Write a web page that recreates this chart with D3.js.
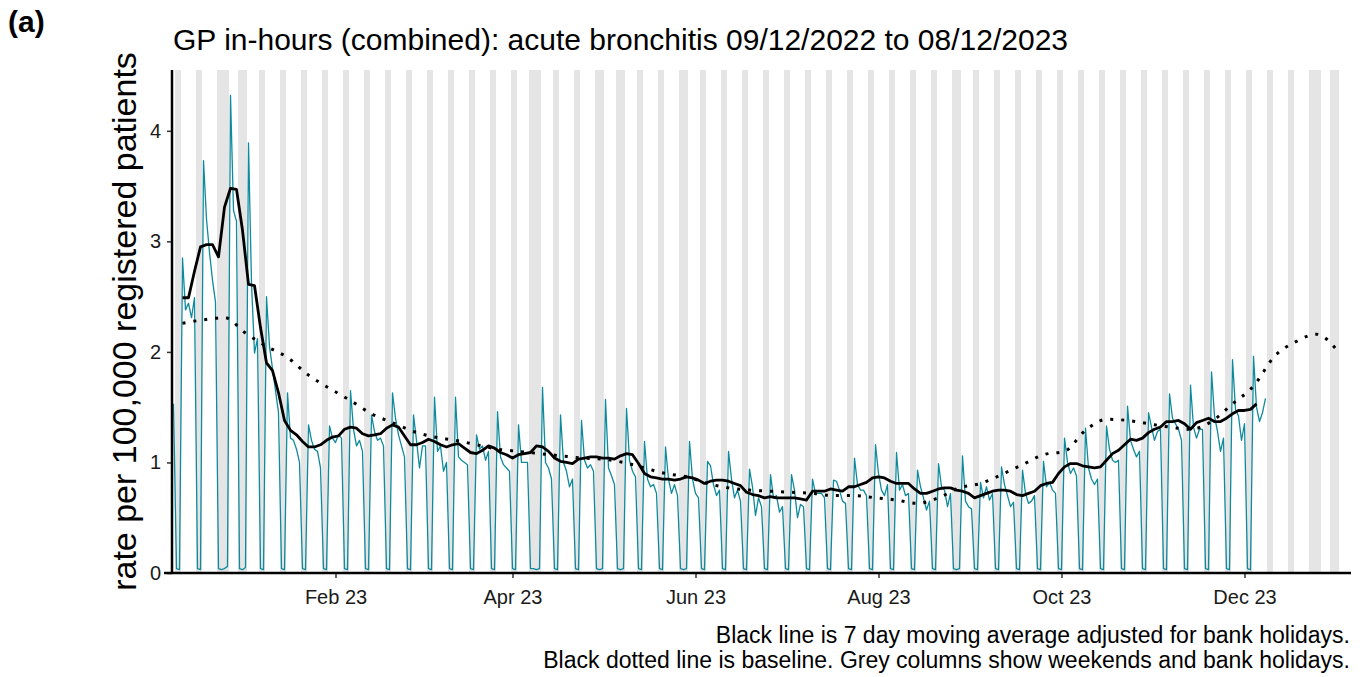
<!DOCTYPE html>
<html>
<head>
<meta charset="utf-8">
<script src="https://cdn.jsdelivr.net/npm/d3@7"></script>
<style>
  html, body { margin: 0; padding: 0; background: #fff; }
  svg { display: block; font-family: "Liberation Sans", Arial, sans-serif; }
</style>
</head>
<body>
<div class="chart"></div>
<script>
// daily rate per 100,000, starting Fri 9 Dec 2022 (one row per week, Mon..Sun)
const rateStart = "2022-12-09";
const dailyRate = [
  1.53, 0.04, 0.03,
  2.85, 2.38, 2.44, 2.31, 2.49, 0.04, 0.03, // 12 Dec
  3.73, 3.20, 2.90, 2.65, 2.45, 0.04, 0.03, // 19 Dec
  0.04, 0.06, 4.32, 3.28, 3.18, 0.04, 0.03, // 26 Dec
  0.05, 3.89, 2.62, 1.99, 2.12, 0.04, 0.03, // 2 Jan
  2.50, 2.05, 1.85, 1.65, 1.45, 0.04, 0.03, // 9 Jan
  1.63, 1.22, 1.20, 1.12, 1.00, 0.04, 0.03, // 16 Jan
  1.34, 1.20, 1.12, 1.10, 0.95, 0.04, 0.03, // 23 Jan
  1.33, 1.22, 1.18, 1.25, 1.22, 0.04, 0.03, // 30 Jan
  1.65, 1.30, 1.15, 1.20, 1.10, 0.04, 0.03, // 6 Feb
  1.43, 1.28, 1.20, 1.22, 1.15, 0.04, 0.03, // 13 Feb
  1.63, 1.40, 1.25, 1.15, 1.05, 0.04, 0.03, // 20 Feb
  1.43, 1.20, 0.95, 1.15, 1.15, 0.04, 0.03, // 27 Feb
  1.59, 1.10, 1.15, 0.92, 1.00, 0.04, 0.03, // 6 Mar
  1.59, 1.05, 1.02, 1.00, 0.98, 0.04, 0.03, // 13 Mar
  1.25, 1.12, 1.15, 1.02, 1.10, 0.04, 0.03, // 20 Mar
  1.46, 1.05, 0.98, 0.95, 0.92, 0.04, 0.03, // 27 Mar
  1.34, 1.00, 1.00, 1.00, 0.04, 0.04, 0.03, // 3 Apr
  0.04, 1.68, 1.00, 0.95, 0.85, 0.04, 0.03, // 10 Apr
  1.43, 1.00, 0.92, 0.78, 0.85, 0.04, 0.03, // 17 Apr
  1.38, 1.02, 0.95, 0.98, 0.92, 0.04, 0.03, // 24 Apr
  0.04, 1.57, 0.95, 0.88, 0.80, 0.04, 0.03, // 1 May
  0.04, 1.49, 1.02, 0.92, 0.87, 0.04, 0.03, // 8 May
  1.19, 0.85, 0.78, 0.80, 0.72, 0.04, 0.03, // 15 May
  1.14, 0.85, 0.72, 0.80, 0.70, 0.04, 0.03, // 22 May
  0.04, 1.19, 0.85, 0.72, 0.68, 0.04, 0.03, // 29 May
  1.01, 0.97, 0.80, 0.70, 0.75, 0.04, 0.03, // 5 Jun
  1.10, 0.85, 0.68, 0.75, 0.65, 0.04, 0.03, // 12 Jun
  0.94, 0.78, 0.52, 0.68, 0.60, 0.04, 0.03, // 19 Jun
  0.89, 0.68, 0.70, 0.55, 0.60, 0.04, 0.03, // 26 Jun
  0.89, 0.75, 0.50, 0.62, 0.60, 0.04, 0.03, // 3 Jul
  0.85, 0.72, 0.72, 0.72, 0.68, 0.04, 0.03, // 10 Jul
  0.84, 0.83, 0.75, 0.65, 0.63, 0.04, 0.03, // 17 Jul
  1.04, 0.80, 0.75, 0.75, 0.70, 0.04, 0.03, // 24 Jul
  1.16, 0.90, 0.75, 0.70, 0.80, 0.04, 0.03, // 31 Jul
  1.09, 0.75, 0.80, 0.70, 0.72, 0.04, 0.03, // 7 Aug
  0.93, 0.78, 0.68, 0.57, 0.65, 0.04, 0.03, // 14 Aug
  0.99, 0.78, 0.75, 0.60, 0.72, 0.04, 0.03, // 21 Aug
  0.04, 1.06, 0.65, 0.60, 0.58, 0.04, 0.03, // 28 Aug
  0.82, 0.68, 0.78, 0.66, 0.72, 0.04, 0.03, // 4 Sep
  0.96, 0.80, 0.70, 0.60, 0.64, 0.04, 0.03, // 11 Sep
  0.93, 0.72, 0.63, 0.65, 0.70, 0.04, 0.03, // 18 Sep
  1.01, 0.78, 0.82, 0.75, 0.72, 0.04, 0.03, // 25 Sep
  1.22, 1.00, 0.90, 0.95, 0.88, 0.04, 0.03, // 2 Oct
  1.31, 0.95, 0.85, 0.80, 0.85, 0.04, 0.03, // 9 Oct
  1.33, 1.12, 1.02, 1.00, 1.02, 0.04, 0.03, // 16 Oct
  1.51, 1.20, 1.12, 1.05, 1.10, 0.04, 0.03, // 23 Oct
  1.45, 1.32, 1.20, 1.28, 1.30, 0.04, 0.03, // 30 Oct
  1.62, 1.40, 1.35, 1.30, 1.20, 0.04, 0.03, // 6 Nov
  1.70, 1.32, 1.22, 1.30, 1.30, 0.04, 0.03, // 13 Nov
  1.82, 1.42, 1.28, 1.10, 1.22, 0.04, 0.03, // 20 Nov
  1.93, 1.48, 1.42, 1.20, 1.35, 0.04, 0.03, // 27 Nov
  1.96, 1.50, 1.37, 1.45, 1.58              // 4 Dec
];

// 7 day moving average, every 2nd day from 12 Dec 2022
const maStart = "2022-12-12";
const maStepDays = 2;
const movingAverage = [
  2.49, 2.49, 2.73, 2.95, 2.97, 2.97, 2.86, 3.31, 3.48, 3.47,
  3.10, 2.61, 2.60, 2.22, 1.90, 1.83, 1.63, 1.38, 1.29, 1.25,
  1.19, 1.14, 1.14, 1.16, 1.20, 1.23, 1.24, 1.30, 1.32, 1.31,
  1.26, 1.24, 1.25, 1.26, 1.31, 1.34, 1.32, 1.24, 1.16, 1.16,
  1.18, 1.21, 1.19, 1.16, 1.14, 1.16, 1.17, 1.13, 1.09, 1.08,
  1.11, 1.15, 1.13, 1.09, 1.07, 1.04, 1.07, 1.08, 1.09, 1.15,
  1.14, 1.10, 1.04, 1.01, 1.00, 0.99, 1.03, 1.04, 1.05, 1.05,
  1.04, 1.04, 1.03, 1.06, 1.08, 1.07, 0.99, 0.90, 0.87, 0.86,
  0.85, 0.85, 0.84, 0.85, 0.87, 0.86, 0.84, 0.81, 0.83, 0.84,
  0.84, 0.83, 0.81, 0.79, 0.73, 0.71, 0.70, 0.68, 0.69, 0.68,
  0.68, 0.68, 0.68, 0.67, 0.66, 0.74, 0.74, 0.74, 0.76, 0.75,
  0.74, 0.78, 0.78, 0.80, 0.82, 0.86, 0.87, 0.86, 0.83, 0.81,
  0.81, 0.81, 0.76, 0.72, 0.72, 0.74, 0.76, 0.77, 0.77, 0.75,
  0.74, 0.72, 0.68, 0.70, 0.72, 0.74, 0.75, 0.75, 0.74, 0.71,
  0.70, 0.72, 0.74, 0.79, 0.81, 0.82, 0.90, 0.96, 0.99, 0.99,
  0.97, 0.96, 0.95, 0.96, 1.02, 1.08, 1.11, 1.16, 1.21, 1.20,
  1.22, 1.27, 1.30, 1.32, 1.37, 1.37, 1.38, 1.35, 1.30, 1.36,
  1.38, 1.40, 1.37, 1.37, 1.40, 1.44, 1.47, 1.47, 1.48, 1.53
];

// baseline, weekly (Mondays) from 12 Dec 2022 to 1 Jan 2024
const baselineStart = "2022-12-12";
const baseline = [
  2.26, 2.29, 2.31, 2.17, 2.05, 1.95, 1.79, 1.67, 1.56, 1.44,
  1.36, 1.28, 1.23, 1.20, 1.16, 1.12, 1.10, 1.08, 1.06, 1.04,
  1.03, 1.00, 0.95, 0.90, 0.87, 0.81, 0.77, 0.75, 0.74, 0.73,
  0.72, 0.70, 0.70, 0.68, 0.66, 0.63, 0.68, 0.77, 0.81, 0.89,
  0.98, 1.07, 1.10, 1.29, 1.39, 1.38, 1.35, 1.32, 1.30, 1.37,
  1.53, 1.69, 1.96, 2.09, 2.16, 2.01
];

const bankHolidays = [
  "2022-12-26", "2022-12-27", "2023-01-02", "2023-04-07", "2023-04-10",
  "2023-05-01", "2023-05-08", "2023-05-29", "2023-08-28",
  "2023-12-25", "2023-12-26", "2024-01-01"
];

const xTickDates = ["2023-02-01", "2023-04-01", "2023-06-01", "2023-08-01", "2023-10-01", "2023-12-01"];
const yTickValues = [0, 1, 2, 3, 4];

const titleText = "GP in-hours (combined): acute bronchitis 09/12/2022 to 08/12/2023";
const yLabel = "rate per 100,000 registered patients";
const captionLines = [
  "Black line is 7 day moving average adjusted for bank holidays.",
  "Black dotted line is baseline. Grey columns show weekends and bank holidays."
];

const width = 1362;
const height = 677;
const panel = { left: 172, right: 1351, top: 70, bottom: 573 };

const parse = d3.timeParse("%Y-%m-%d");

const rateData = dailyRate.map((v, i) => ({ date: d3.timeDay.offset(parse(rateStart), i), value: v }));
const maData = movingAverage.map((v, i) => ({ date: d3.timeDay.offset(parse(maStart), i * maStepDays), value: v }));
const baseData = baseline.map((v, i) => ({ date: d3.timeWeek.offset(parse(baselineStart), i), value: v }));

const x = d3.scaleTime()
  .domain([d3.timeHour.offset(parse("2022-12-08"), 12), d3.timeHour.offset(parse("2024-01-05"), 12)])
  .range([panel.left, panel.right]);

const y = d3.scaleLinear()
  .domain([0, 4.55])
  .range([panel.bottom, panel.top]);

const svg = d3.select(".chart")
  .append("svg")
  .attr("width", width)
  .attr("height", height);

// grey columns: weekends and bank holidays
const holidaySet = new Set(bankHolidays);
const fmt = d3.timeFormat("%Y-%m-%d");
const greyDays = d3.timeDay.range(parse("2022-12-09"), parse("2024-01-06"))
  .filter(d => d.getDay() === 0 || d.getDay() === 6 || holidaySet.has(fmt(d)));

svg.append("g")
  .selectAll("rect")
  .data(greyDays)
  .enter()
  .append("rect")
  .attr("x", d => x(d3.timeHour.offset(d, -12)))
  .attr("width", d => x(d3.timeHour.offset(d, 12)) - x(d3.timeHour.offset(d, -12)))
  .attr("y", panel.top)
  .attr("height", panel.bottom - panel.top)
  .attr("fill", "#e5e5e5");

const line = d3.line()
  .x(d => x(d.date))
  .y(d => y(d.value));

svg.append("path")
  .datum(rateData)
  .attr("fill", "none")
  .attr("stroke", "#0f8a9d")
  .attr("stroke-width", 1.3)
  .attr("stroke-linejoin", "round")
  .attr("d", line);

svg.append("path")
  .datum(maData)
  .attr("fill", "none")
  .attr("stroke", "#000")
  .attr("stroke-width", 2.8)
  .attr("stroke-linejoin", "round")
  .attr("d", line);

svg.append("path")
  .datum(baseData)
  .attr("fill", "none")
  .attr("stroke", "#000")
  .attr("stroke-width", 3)
  .attr("stroke-dasharray", "3 8")
  .attr("d", line.curve(d3.curveMonotoneX));

// axes
const yAxis = svg.append("g")
  .attr("transform", `translate(${panel.left},0)`)
  .call(d3.axisLeft(y).tickValues(yTickValues).tickFormat(d3.format("d")).tickSize(5).tickPadding(6));

const xAxis = svg.append("g")
  .attr("transform", `translate(0,${panel.bottom})`)
  .call(d3.axisBottom(x)
    .tickValues(xTickDates.map(parse))
    .tickFormat(d3.timeFormat("%b %y"))
    .tickSize(5)
    .tickPadding(12));

[yAxis, xAxis].forEach(g => {
  g.select(".domain").remove();
  g.selectAll(".tick line").attr("stroke", "#333").attr("stroke-width", 1.5);
  g.selectAll(".tick text")
    .attr("fill", "#1a1a1a")
    .style("font-size", "20px")
    .style("font-family", "'Liberation Sans', Arial, sans-serif");
});

svg.append("line")
  .attr("x1", panel.left).attr("x2", panel.left)
  .attr("y1", panel.top).attr("y2", panel.bottom)
  .attr("stroke", "#000").attr("stroke-width", 2.5);

svg.append("line")
  .attr("x1", 164).attr("x2", panel.right)
  .attr("y1", panel.bottom).attr("y2", panel.bottom)
  .attr("stroke", "#000").attr("stroke-width", 2.5);

// texts
svg.append("text")
  .attr("x", 8)
  .attr("y", 32)
  .style("font-size", "30px")
  .style("font-weight", "bold")
  .text("(a)");

svg.append("text")
  .attr("x", 173)
  .attr("y", 50)
  .style("font-size", "30px")
  .attr("fill", "#000")
  .text(titleText);

svg.append("text")
  .attr("transform", `translate(136,${(panel.top + panel.bottom) / 2}) rotate(-90)`)
  .attr("text-anchor", "middle")
  .style("font-size", "34px")
  .text(yLabel);

svg.selectAll(".caption")
  .data(captionLines)
  .enter()
  .append("text")
  .attr("class", "caption")
  .attr("x", 1350)
  .attr("y", (d, i) => 643 + i * 25)
  .attr("text-anchor", "end")
  .style("font-size", "23px")
  .text(d => d);
</script>
</body>
</html>
